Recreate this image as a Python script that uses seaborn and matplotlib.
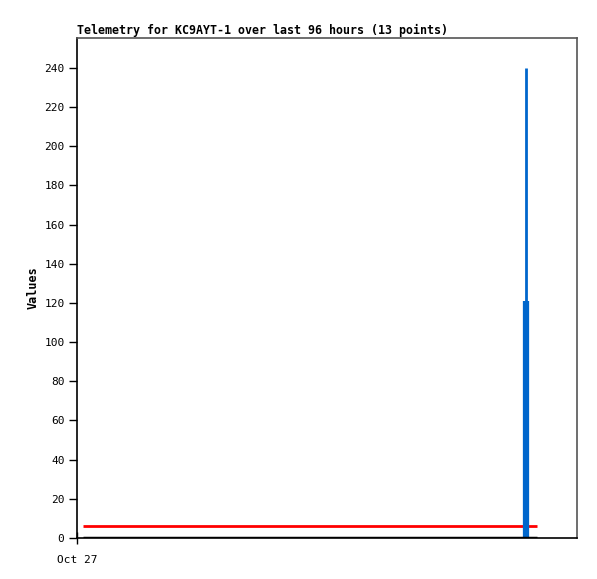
import numpy as np
import pandas as pd
import matplotlib
matplotlib.use("Agg")
import matplotlib.pyplot as plt
import seaborn as sns

# hours since Oct 27 00:00
hours = [1.3, 9.3, 17.3, 25.3, 33.3, 41.3, 49.3, 57.3, 65.3, 73.3, 81.3, 89.3, 97.3]
red_vals = [6.1] * 13
black_vals = [0] * 13
spike_hours = [94.9, 94.9]
spike_thin = [0, 240]
spike_thick = [0, 121]

sns.set_style("white")
plt.rcParams['font.family'] = ['DejaVu Sans Mono']
plt.rcParams['text.color'] = 'black'
plt.rcParams['axes.labelcolor'] = 'black'
plt.rcParams['lines.solid_capstyle'] = 'butt'

fig = plt.figure(figsize=(5.97, 5.79), dpi=100)
ax = fig.add_axes([77 / 597, 41 / 579, 500 / 597, 500 / 579])

sns.lineplot(x=hours, y=red_vals, color="#ff0000", linewidth=2, estimator=None, ax=ax)
sns.lineplot(x=spike_hours, y=spike_thin, color="#0066cc", linewidth=2, estimator=None, ax=ax)
sns.lineplot(x=spike_hours, y=spike_thick, color="#0066cc", linewidth=4.5, estimator=None, ax=ax)
sns.lineplot(x=hours, y=black_vals, color="#000000", linewidth=2.5, estimator=None, ax=ax)

ax.set_xlim(0, 105.7)
ax.set_ylim(0, 255.3)
ax.set_yticks(np.arange(0, 241, 20))
ax.set_xticks([0])
ax.set_xticklabels(["Oct 27"])
ax.tick_params(axis="y", left=True, direction="out", length=6, width=1, labelsize=8,
               colors="black", pad=3)
ax.tick_params(axis="x", bottom=True, direction="inout", length=8, width=1, labelsize=8,
               colors="black", pad=8)

for side in ["left", "bottom"]:
    ax.spines[side].set_color("black")
    ax.spines[side].set_linewidth(1.2)
for side in ["top", "right"]:
    ax.spines[side].set_color("#555555")
    ax.spines[side].set_linewidth(1.2)

ax.set_ylabel("Values", fontsize=8.5, fontweight="bold", labelpad=3)
ax.set_title("Telemetry for KC9AYT-1 over last 96 hours (13 points)", fontsize=8.4,
             fontweight="bold", loc="left", pad=3)

fig.savefig("out.png", dpi=100)
